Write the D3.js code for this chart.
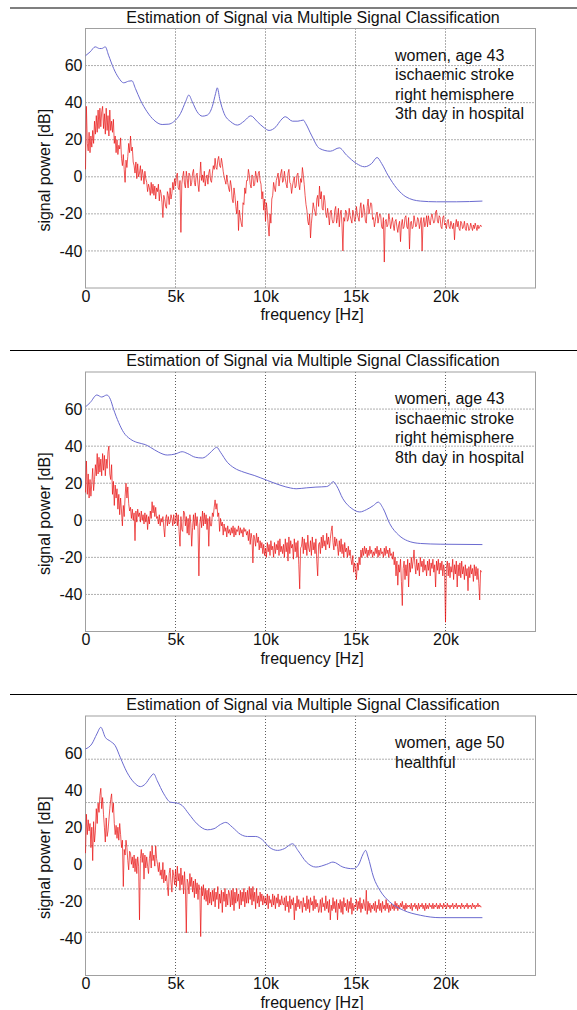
<!DOCTYPE html>
<html>
<head>
<meta charset="utf-8">
<script src="https://cdn.jsdelivr.net/npm/d3@7/dist/d3.min.js"></script>
<style>
  html, body { margin: 0; padding: 0; background: #fff; }
  svg { display: block; }
  text { font-family: "Liberation Sans", Arial, sans-serif; fill: #111; }
</style>
</head>
<body>
<svg id="chart" width="577" height="1010"></svg>
<script>
// ---------------- DATA ----------------
const chartTitle = "Estimation of Signal via Multiple Signal Classification";
const xLabel = "frequency [Hz]";
const yLabel = "signal power [dB]";
const xTicks = [0, 5000, 10000, 15000, 20000];
const xTickLabels = ["0", "5k", "10k", "15k", "20k"];
const yTicks = [-40, -20, 0, 20, 40, 60];
const yTickLabels = ["-40", "-20", "0", "20", "40", "60"];
// gridlines of the third panel do not coincide with its tick labels
const yGrid1 = [-40, -20, 0, 20, 40, 60];
const yGrid2 = [-40, -20, 0, 20, 40, 60];
const yGrid3 = [-36.7, -13.3, 10, 33.3, 56.7];

const notes1 = ["women, age 43", "ischaemic stroke", "right hemisphere", "3th day in hospital"];
const notes2 = ["women, age 43", "ischaemic stroke", "right hemisphere", "8th day in hospital"];
const notes3 = ["women, age 50", "healthful"];

// MUSIC pseudospectrum (blue), frequency in kHz and power in dB
const blueF1 = [0,0.26,0.54,0.78,0.9,1.1,1.28,1.56,1.84,2.12,2.4,2.58,2.77,3.05,3.42,3.8,4.26,4.63,4.9,5.28,5.56,5.74,5.93,6.2,6.49,6.77,7.04,7.23,7.32,7.47,7.7,8.07,8.44,8.81,9.18,9.55,9.93,10.2,10.58,10.85,11.1,11.5,11.8,12.1,12.23,12.55,13.0,13.6,14.1,14.5,15.05,15.5,15.9,16.2,16.45,16.8,17.3,17.8,18.6,19.5,20.6,22.05];
const blueV1 = [65.3,67.4,70.1,69.2,69.2,70.1,65.6,58.5,53.4,50.7,51.6,51.8,47.7,41.4,35.1,30.6,28.2,28.4,29.7,34.2,40.5,44.1,40.5,35.1,32.7,33.3,37.8,45,48,41.4,34.2,29.7,27.9,30,32.9,29.7,26.4,25,27,30.5,32.4,30,30,30.6,28.8,22.5,15.3,13.8,15.6,11.7,7.2,5.4,7.2,10.4,7.2,0.9,-6.3,-10.8,-13.1,-13.5,-13.5,-13.1];

const blueF2 = [0,0.26,0.63,0.9,1.19,1.38,1.56,1.84,2.12,2.49,2.86,3.33,3.6,4.07,4.54,5.0,5.37,5.65,6.1,6.49,6.86,7.14,7.29,7.5,7.88,8.25,8.81,9.37,10.1,10.86,11.4,11.7,12.27,12.8,13.4,13.66,13.75,13.94,14.3,14.8,15.24,15.6,16.0,16.26,16.54,16.9,17.4,17.9,18.6,19.7,22.05];
const blueV2 = [61.2,63.5,67.6,66.5,67.6,65.3,59.9,52.8,47.4,43.8,42,40.8,39.4,36.7,35.2,35.8,37,36.1,34,33.6,35.8,38.5,39.4,36.7,31.3,28.3,25.9,24.2,21.5,18.8,17.4,17,17.5,17.9,18.2,20,20.9,18.8,11.6,6.3,4.5,5.7,8,9.8,6.3,-1.8,-8,-11.1,-12.5,-12.9,-13.1];

const blueF3 = [0,0.35,0.63,0.85,1.1,1.38,1.65,1.93,2.3,2.68,3.05,3.33,3.6,3.79,3.98,4.35,4.72,5.09,5.37,5.74,6.2,6.77,7.14,7.5,7.79,8.16,8.62,9.0,9.46,9.83,10.2,10.67,11.04,11.5,11.8,12.27,12.8,13.4,13.75,14.3,14.87,15.15,15.43,15.56,15.7,16.0,16.36,16.9,17.66,18.6,19.7,22.05];
const blueV3 = [62.2,64.9,70.3,73.9,68.5,66.4,64,57.7,49.7,44.3,41.9,43.4,47,48.8,45.2,38,33.5,33,31.7,27.2,21.8,18.6,19.2,21.5,22.6,20,16.1,15,15,13.2,9.3,7.5,8.4,11.1,7.5,1.2,-1.5,0,1.2,-1.5,-2.4,-0.6,5.7,7.5,3.9,-6.9,-14.1,-20.3,-24.8,-27.5,-28.8,-28.8];

// periodogram (red), one value per 50 Hz from 0 to 22 kHz, in dB (one row = 1 kHz)
const red1 = [
  4,38,18,14,24,13,22,16,25,18, 30,23,33,24,36,26,37,27,35,38,
  26,34,23,37,25,33,22,36,25,30, 24,31,18,22,13,20,12,17,15,21,
  10,6,12,4,-3,9,5,11,18,13, 22,14,16,8,6,2,8,-1,7,0,
  2,6,-2,4,1,-4,3,-1,-3,-8, -4,-6,-10,-3,-9,-4,-10,-5,-12,-6,
  -8,-4,-13,-7,-9,-14,-22,-10,-12,-16, -17,-8,-10,-15,-6,-12,-9,-3,-7,-1,
  -5,0,2,-6,-7,-2,-30,-4,0,3, -4,-6,3,-1,-6,2,1,-5,-3,2,
  4,-3,-5,1,2,-4,-8,0,8,-2, 1,-3,3,-5,-1,1,-4,2,4,-2,
  -3,2,6,4,10,5,4,9,11,6, 5,10,7,3,0,-2,-4,1,-3,-6,
  -8,-2,-5,-12,-14,-6,-10,-16,-20,-13, -29,-18,-22,-25,-27,-14,-15,-6,-9,-2,
  -2,4,1,-4,-6,1,0,-5,-4,3, 0,-3,2,3,-2,-4,-12,-8,-18,-12,
  -24,-14,-19,-26,-32,-20,-25,-12,-10,-3, -6,-8,-2,0,2,-5,-1,2,4,-3,
  -2,3,-1,-4,-6,2,4,-3,-4,-9, -5,-2,0,-6,-5,1,2,-4,-7,-1,
  -3,5,1,-4,-10,-15,-18,-24,-26,-20, -33,-25,-20,-14,-17,-19,-21,-12,-10,-16,
  -5,-12,-8,-17,-18,-10,-13,-20,-22,-17, -21,-26,-19,-18,-23,-25,-24,-18,-16,-25,
  -22,-17,-27,-20,-18,-26,-40,-22,-24,-18, -19,-24,-23,-17,-21,-23,-25,-18,-20,-24,
  -23,-16,-20,-22,-24,-17,-14,-22,-21,-15, -18,-24,-25,-16,-12,-20,-17,-14,-15,-23,
  -22,-27,-24,-20,-19,-25,-22,-20,-21,-27, -28,-22,-46,-24,-23,-27,-26,-20,-23,-28,
  -25,-22,-26,-29,-24,-23,-27,-30,-26,-24, -35,-26,-23,-28,-27,-22,-21,-27,-28,-22,
  -39,-25,-24,-28,-27,-21,-24,-27,-26,-22, -23,-28,-25,-22,-40,-25,-22,-27,-25,-21,
  -27,-21,-24,-26,-22,-20,-23,-25,-24,-19, -18,-24,-25,-21,-22,-27,-28,-22,-21,-26,
  -25,-28,-24,-23,-27,-28,-24,-26,-28,-25, -34,-26,-23,-27,-24,-28,-29,-24,-25,-28,
  -27,-24,-28,-29,-25,-26,-29,-28,-25,-27, -29,-26,-28,-25,-27,-29,-26,-28,-27,-26,
  -27];
const red2 = [
  15,32,14,25,12,22,13,20,28,16, 22,30,24,36,25,34,26,33,24,36,
  27,35,24,33,28,37,40,25,22,30, 14,21,8,19,12,17,6,14,3,12,
  5,-3,8,2,13,20,12,18,9,5, 7,1,6,0,4,-11,5,-1,6,2,
  4,-1,5,0,3,-2,4,-1,3,-5, 2,-2,5,1,10,4,8,2,7,1,
  2,-2,3,-3,1,-1,2,-4,-9,1, 3,-3,2,-2,-1,3,1,-3,3,-2,
  0,4,-3,3,-6,-14,2,-5,-6,5, 4,-3,2,-7,1,-8,3,-2,-14,-4,
  3,-5,4,-3,2,-4,-30,-2,2,-4, 5,-3,4,-2,3,-5,1,-14,2,-3,
  -3,4,2,7,11,6,9,2,4,-6, 1,-3,-1,-8,-2,-6,-4,-9,-3,-7,
  -5,-8,-4,-7,-3,-9,-4,-8,-5,-6, -3,-8,-4,-7,-5,-9,-4,-6,-5,-8,
  -6,-11,-5,-13,-7,-10,-23,-8,-10,-14, -7,-12,-9,-16,-11,-15,-12,-18,-13,-19,
  -15,-20,-12,-17,-13,-19,-11,-16,-14,-20, -12,-18,-13,-16,-11,-19,-10,-17,-14,-18,
  -13,-20,-10,-17,-12,-22,-9,-18,-11,-15, -13,-21,-10,-17,-12,-20,-11,-24,-37,-15,
  -14,-9,-18,-10,-16,-12,-19,-8,-15,-17, -11,-19,-9,-16,-12,-18,-10,-22,-30,-13,
  -12,-18,-9,-15,-8,-14,-11,-16,-7,-13, -9,-15,-10,-6,-3,-12,-16,-9,-14,-10,
  -14,-19,-11,-17,-10,-18,-13,-20,-12,-17, -15,-20,-14,-19,-16,-21,-24,-19,-28,-23,
  -26,-32,-23,-27,-20,-24,-16,-20,-15,-19, -14,-18,-15,-20,-16,-19,-14,-18,-16,-20,
  -17,-19,-15,-18,-14,-20,-16,-19,-15,-18, -17,-20,-15,-19,-14,-18,-16,-20,-15,-19,
  -18,-21,-17,-24,-20,-30,-22,-35,-24,-28, -21,-33,-46,-26,-22,-32,-24,-30,-21,-36,
  -23,-28,-20,-26,-22,-16,-24,-29,-21,-27, -23,-30,-20,-25,-22,-28,-21,-27,-24,-30,
  -22,-27,-21,-30,-23,-26,-21,-28,-24,-36, -22,-27,-21,-29,-23,-27,-22,-30,-24,-28,
  -55,-26,-22,-30,-23,-31,-25,-28,-21,-32, -24,-29,-22,-36,-24,-30,-23,-31,-22,-29,
  -25,-32,-24,-30,-26,-38,-25,-31,-24,-29, -26,-33,-24,-30,-25,-32,-26,-34,-43,-27,
  -28];
const red3 = [
  6,27,16,24,18,22,9,20,2,23, 12,18,30,22,33,28,37,41,30,36,
  27,20,12,25,15,18,24,30,35,38, 28,33,22,16,21,14,20,13,22,16,
  9,13,-12,8,5,13,9,2,-3,7, 6,0,4,-2,5,-4,3,-5,4,-1,
  -30,3,8,1,6,-8,5,-2,4,-1, -5,3,7,-2,10,2,5,-1,10,3,
  0,-4,1,-6,-3,-8,1,-10,-3,-9, -6,-12,-17,-5,-2,-10,-15,-3,-6,-11,
  -3,-12,-1,-9,-5,-14,-2,-11,-6,-16, -4,-13,-37,-8,-10,-16,-5,-12,-7,-15,
  -9,-18,-8,-16,-10,-19,-11,-14,-39,-12, -17,-11,-19,-13,-20,-14,-22,-13,-21,-15,
  -22,-14,-20,-13,-23,-15,-19,-12,-24,-16, -21,-14,-26,-15,-20,-13,-23,-16,-22,-14,
  -16,-23,-14,-22,-13,-25,-15,-21,-13,-20, -16,-24,-14,-22,-15,-20,-13,-23,-15,-21,
  -14,-21,-12,-19,-13,-22,-12,-20,-15,-24, -13,-21,-17,-23,-15,-20,-16,-22,-17,-21,
  -18,-22,-16,-24,-17,-21,-19,-23,-16,-22, -17,-24,-18,-21,-16,-23,-19,-22,-17,-21,
  -22,-18,-25,-17,-23,-20,-26,-17,-24,-19, -22,-18,-30,-21,-25,-17,-23,-19,-24,-20,
  -20,-26,-18,-23,-21,-25,-17,-24,-19,-26, -18,-22,-20,-25,-17,-24,-19,-23,-21,-26,
  -24,-19,-26,-18,-23,-21,-25,-17,-24,-20, -26,-19,-30,-22,-25,-18,-24,-20,-26,-19,
  -30,-21,-24,-19,-26,-20,-27,-18,-23,-21, -25,-19,-26,-20,-24,-18,-27,-21,-25,-22,
  -23,-19,-25,-20,-24,-18,-26,-21,-24,-19, -22,-25,-14,-27,-20,-25,-21,-26,-22,-24,
  -21,-25,-20,-26,-22,-24,-19,-25,-21,-26, -20,-24,-22,-25,-19,-24,-21,-26,-22,-25,
  -21,-24,-22,-25,-20,-24,-21,-25,-22,-24, -21,-23,-20,-24,-22,-25,-21,-24,-22,-23,
  -22,-24,-21,-25,-22,-23,-21,-24,-22,-25, -21,-24,-22,-23,-21,-24,-22,-25,-21,-24,
  -22,-24,-21,-23,-22,-24,-21,-24,-22,-23, -21,-24,-22,-24,-21,-23,-22,-24,-21,-23,
  -22,-24,-21,-23,-22,-24,-22,-23,-21,-24, -22,-23,-21,-24,-22,-23,-22,-24,-21,-23,
  -22,-24,-22,-23,-21,-24,-22,-23,-22,-24, -21,-23,-22,-24,-22,-23,-21,-23,-22,-23,
  -23];
const redStepHz = 50;

// ---------------- LAYOUT ----------------
const W = 577;
const plotLeft = 85.5, plotRight = 535.5, plotH = 259.5;
const panelTops = [28.5, 372, 716];
const separatorY = [8, 350.5, 694.5];

const panels = [
  { blueF: blueF1, blueV: blueV1, red: red1, grid: yGrid1, notes: notes1 },
  { blueF: blueF2, blueV: blueV2, red: red2, grid: yGrid2, notes: notes2 },
  { blueF: blueF3, blueV: blueV3, red: red3, grid: yGrid3, notes: notes3 }
];

const svg = d3.select("#chart");

panels.forEach((p, i) => {
  const top = panelTops[i];
  const bottom = top + plotH;
  const x = d3.scaleLinear().domain([0, 25000]).range([plotLeft, plotRight]);
  const y = d3.scaleLinear().domain([-60, 80]).range([bottom, top]);
  const g = svg.append("g");

  // separator rule
  g.append("line")
    .attr("x1", 10).attr("x2", W).attr("y1", separatorY[i]).attr("y2", separatorY[i])
    .attr("stroke", "#000").attr("stroke-width", 1.2);

  // title
  g.append("text")
    .attr("x", 313).attr("y", top - 6)
    .attr("text-anchor", "middle").attr("font-size", 16)
    .text(chartTitle);

  // grid
  g.append("g").selectAll("line").data(p.grid).join("line")
    .attr("x1", plotLeft).attr("x2", plotRight)
    .attr("y1", d => y(d)).attr("y2", d => y(d))
    .attr("stroke", "#333").attr("stroke-width", 0.8).attr("stroke-dasharray", "1,2");
  g.append("g").selectAll("line").data(xTicks.slice(1)).join("line")
    .attr("x1", d => x(d)).attr("x2", d => x(d))
    .attr("y1", top).attr("y2", bottom)
    .attr("stroke", "#333").attr("stroke-width", 0.8).attr("stroke-dasharray", "1,2");

  // frame
  g.append("rect")
    .attr("x", plotLeft).attr("y", top).attr("width", plotRight - plotLeft).attr("height", plotH)
    .attr("fill", "none").attr("stroke", "#a0a0a0").attr("stroke-width", 1);

  // axes (labels only)
  const xAxis = d3.axisBottom(x).tickValues(xTicks)
    .tickFormat((d, k) => xTickLabels[k]).tickSize(0).tickPadding(2.5);
  const gx = g.append("g").attr("transform", `translate(0,${bottom})`).call(xAxis);
  gx.select(".domain").remove();
  gx.selectAll("text").attr("font-size", 16).attr("font-family", "Liberation Sans, Arial, sans-serif").attr("fill", "#111");

  const yAxis = d3.axisLeft(y).tickValues(yTicks)
    .tickFormat((d, k) => yTickLabels[k]).tickSize(0).tickPadding(3);
  const gy = g.append("g").attr("transform", `translate(${plotLeft},0)`).call(yAxis);
  gy.select(".domain").remove();
  gy.selectAll("text").attr("font-size", 16).attr("font-family", "Liberation Sans, Arial, sans-serif").attr("fill", "#111");

  // axis titles
  g.append("text")
    .attr("x", 312).attr("y", bottom + 32)
    .attr("text-anchor", "middle").attr("font-size", 16)
    .text(xLabel);
  g.append("text")
    .attr("transform", `translate(50,${(top + bottom) / 2 + 12}) rotate(-90)`)
    .attr("text-anchor", "middle").attr("font-size", 16)
    .text(yLabel);

  // red periodogram
  const redLine = d3.line()
    .x((d, k) => x(k * redStepHz))
    .y(d => y(d));
  g.append("path").datum(p.red)
    .attr("d", redLine)
    .attr("fill", "none").attr("stroke", "#e81010").attr("stroke-width", 0.7)
    .attr("stroke-linejoin", "round");

  // blue MUSIC spectrum
  const blueLine = d3.line()
    .x((d, k) => x(p.blueF[k] * 1000))
    .y(d => y(d))
    .curve(d3.curveMonotoneX);
  g.append("path").datum(p.blueV)
    .attr("d", blueLine)
    .attr("fill", "none").attr("stroke", "#6b6bd0").attr("stroke-width", 1);

  // annotation
  const tx = g.append("text").attr("font-size", 16);
  p.notes.forEach((s, k) => {
    tx.append("tspan").attr("x", 395).attr("y", top + 32 + k * 19.5).text(s);
  });
});
</script>
</body>
</html>
